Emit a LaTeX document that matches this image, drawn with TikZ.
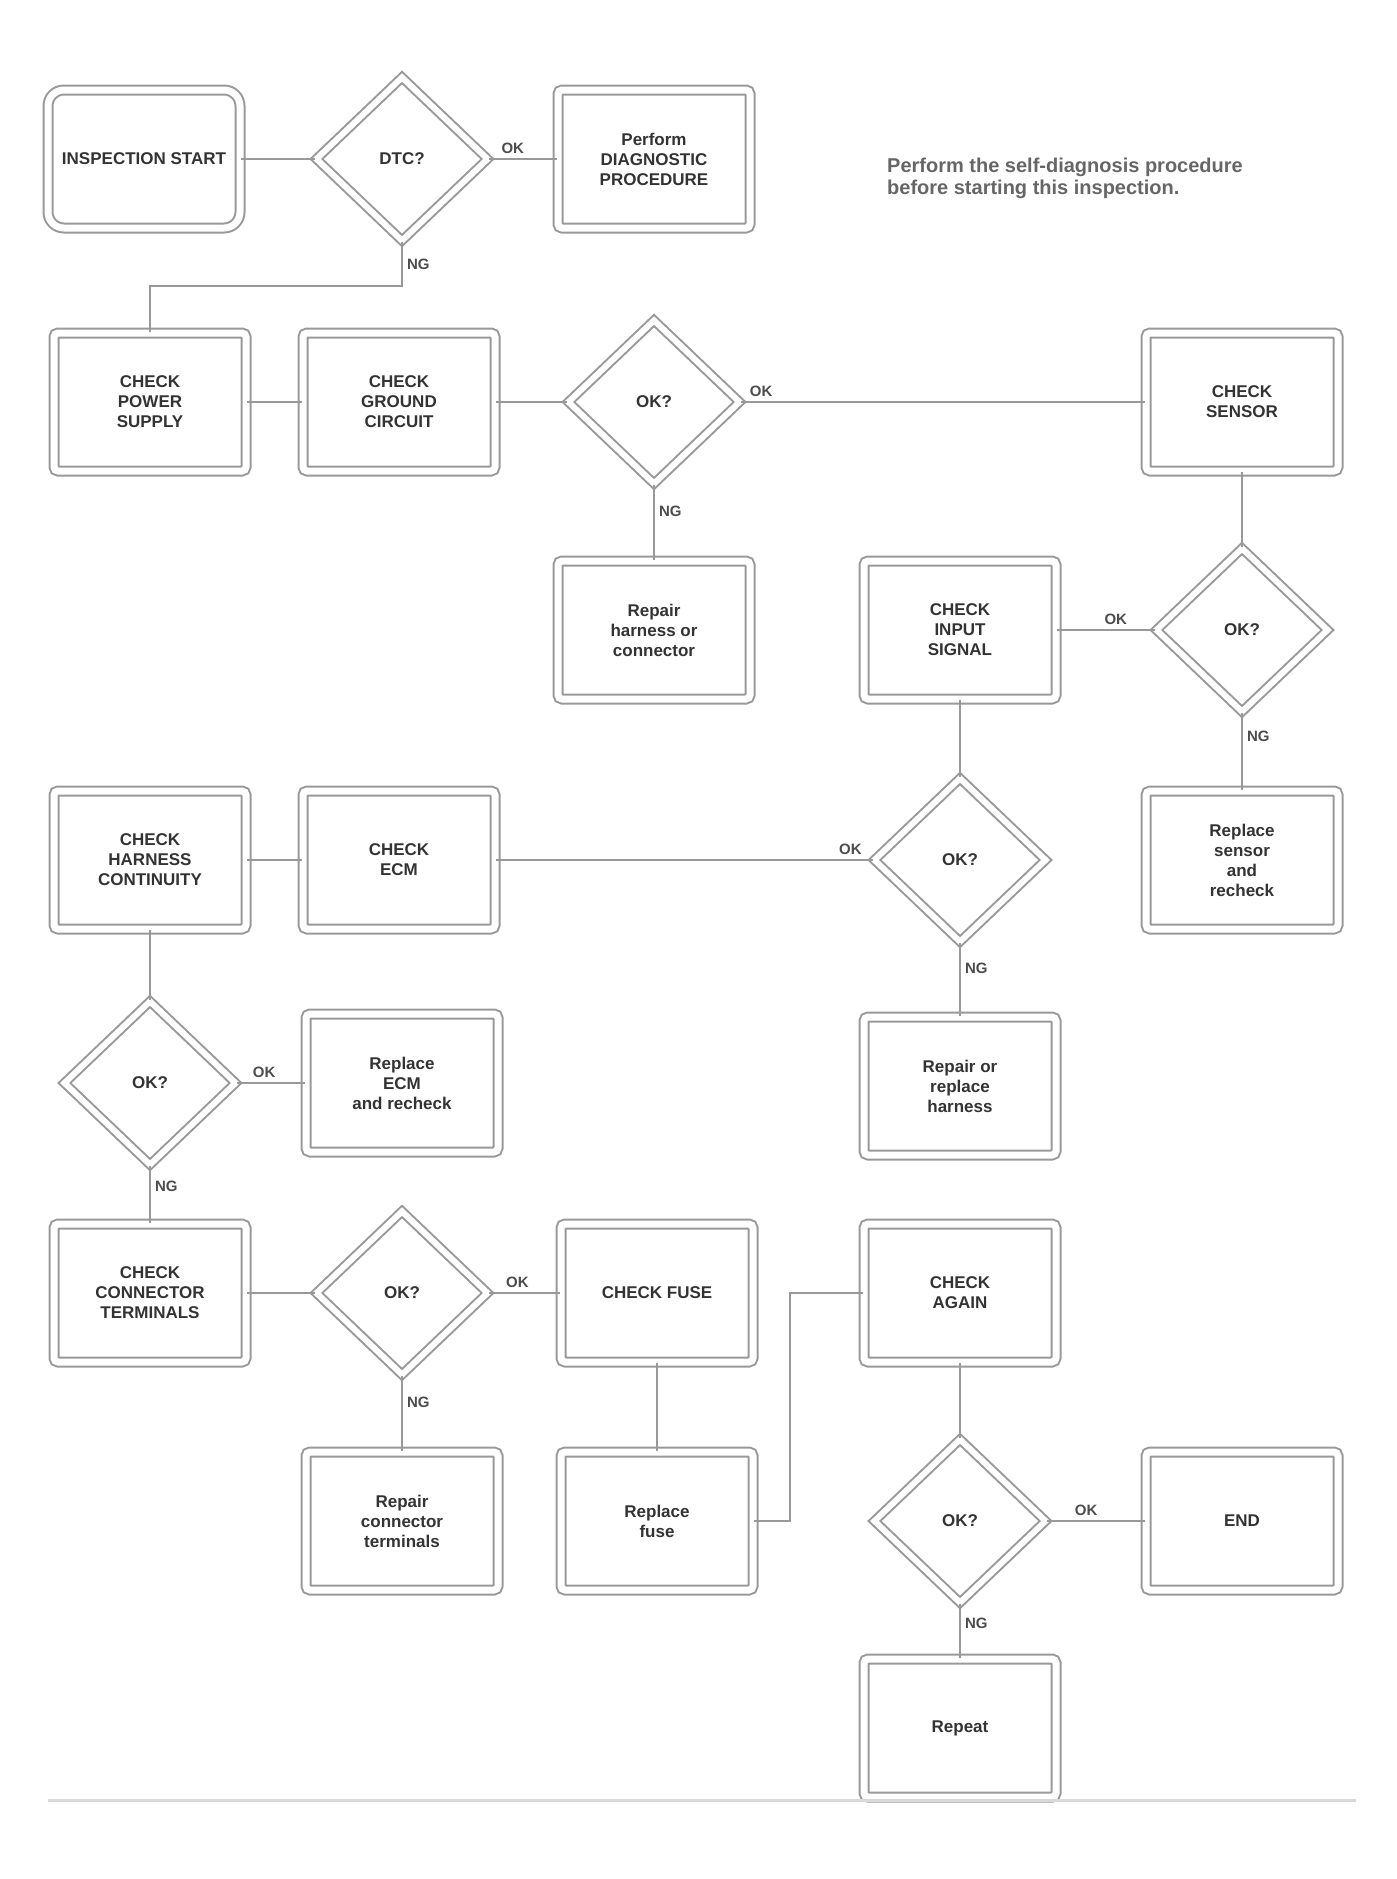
\documentclass[tikz,border=0pt]{standalone}
\usepackage{fontspec}
\setmainfont{Liberation Sans}
\usetikzlibrary{shapes.geometric}
\begin{document}
\begin{tikzpicture}[x=0.5pt,y=-0.5pt,
  every node/.style={font=\fontsize{8.5}{10}\selectfont\bfseries, text=black!80},
  stepbox/.style={draw=black!40, line width=1pt, double, double distance=3.5pt, rounded corners=2pt,
     minimum width=96pt, minimum height=69pt, align=center, inner sep=2pt},
  startbox/.style={stepbox, rounded corners=8pt},
  decide/.style={draw=black!40, line width=1pt, double, double distance=3pt, shape=diamond,
     minimum width=86pt, minimum height=82pt, inner sep=0pt, align=center},
  conn/.style={draw=black!40, line width=1.1pt},
  lab/.style={font=\fontsize{7.5}{8.5}\selectfont\bfseries, text=black!70, inner sep=2pt},
  note/.style={font=\fontsize{10}{11}\selectfont\bfseries, text=black!60, align=left}
]
\useasboundingbox (0,0) rectangle (1397,1879);

% row 1
\node[startbox] (st) at (144,159) {INSPECTION START};
\node[decide] (d1) at (402,159) {DTC?};
\node[stepbox] (b1) at (654,159) {Perform\\DIAGNOSTIC\\PROCEDURE};
\node[note] (nt) at (1065,178) {Perform the self-diagnosis procedure\\before starting this inspection.};

% row 2
\node[stepbox] (a) at (150,402) {CHECK\\POWER\\SUPPLY};
\node[stepbox] (b) at (399,402) {CHECK\\GROUND\\CIRCUIT};
\node[decide] (d2) at (654,402) {OK?};
\node[stepbox] (c) at (1242,402) {CHECK\\SENSOR};

% row 3
\node[stepbox] (dd) at (654,630) {Repair\\harness or\\connector};
\node[stepbox] (e) at (960,630) {CHECK\\INPUT\\SIGNAL};
\node[decide] (d3) at (1242,630) {OK?};

% row 4
\node[stepbox] (g) at (150,860) {CHECK\\HARNESS\\CONTINUITY};
\node[stepbox] (h) at (399,860) {CHECK\\ECM};
\node[decide] (d4) at (960,860) {OK?};
\node[stepbox] (f) at (1242,860) {Replace\\sensor\\and\\recheck};

% row 5
\node[decide] (d5) at (150,1083) {OK?};
\node[stepbox] (j) at (402,1083) {Replace\\ECM\\and recheck};
\node[stepbox] (i) at (960,1086) {Repair or\\replace\\harness};

% row 6
\node[stepbox] (k) at (150,1293) {CHECK\\CONNECTOR\\TERMINALS};
\node[decide] (d6) at (402,1293) {OK?};
\node[stepbox] (l) at (657,1293) {CHECK FUSE};
\node[stepbox] (m) at (960,1293) {CHECK\\AGAIN};

% row 7
\node[stepbox] (n) at (402,1521) {Repair\\connector\\terminals};
\node[stepbox] (o) at (657,1521) {Replace\\fuse};
\node[decide] (d7) at (960,1521) {OK?};
\node[stepbox] (p) at (1242,1521) {END};
\node[stepbox] (q) at (960,1728) {Repeat};

% connectors
\draw[conn] (st.east) -- (d1.west);
\draw[conn] (d1.east) -- node[lab, above, pos=0.35] {OK} (b1.west);
\draw[conn] (d1.south) -- node[lab, right, pos=0.5] {NG} ++(0,44) -| (a.north);
\draw[conn] (a.east) -- (b.west);
\draw[conn] (b.east) -- (d2.west);
\draw[conn] (d2.east) -- node[lab, above, pos=0.05] {OK} (c.west);
\draw[conn] (d2.south) -- node[lab, right, pos=0.35] {NG} (dd.north);
\draw[conn] (c.south) -- (d3.north);
\draw[conn] (d3.west) -- node[lab, above, pos=0.4] {OK} (e.east);
\draw[conn] (d3.south) -- node[lab, right, pos=0.3] {NG} (f.north);
\draw[conn] (e.south) -- (d4.north);
\draw[conn] (d4.west) -- node[lab, above, pos=0.06] {OK} (h.east);
\draw[conn] (d4.south) -- node[lab, right, pos=0.35] {NG} (i.north);
\draw[conn] (h.west) -- (g.east);
\draw[conn] (g.south) -- (d5.north);
\draw[conn] (d5.east) -- node[lab, above, pos=0.4] {OK} (j.west);
\draw[conn] (d5.south) -- node[lab, right, pos=0.35] {NG} (k.north);
\draw[conn] (k.east) -- (d6.west);
\draw[conn] (d6.east) -- node[lab, above, pos=0.4] {OK} (l.west);
\draw[conn] (d6.south) -- node[lab, right, pos=0.35] {NG} (n.north);
\draw[conn] (l.south) -- (o.north);
\draw[conn] (o.east) -- ++(36,0) |- (m.west);
\draw[conn] (m.south) -- (d7.north);
\draw[conn] (d7.east) -- node[lab, above, pos=0.4] {OK} (p.west);
\draw[conn] (d7.south) -- node[lab, right, pos=0.35] {NG} (q.north);

% bottom rule
\coordinate (rl) at (48,1800);
\coordinate (rr) at (1356,1800);
\draw[draw=black!15, line width=1.5pt] (rl) -- (rr);
\end{tikzpicture}
\end{document}
